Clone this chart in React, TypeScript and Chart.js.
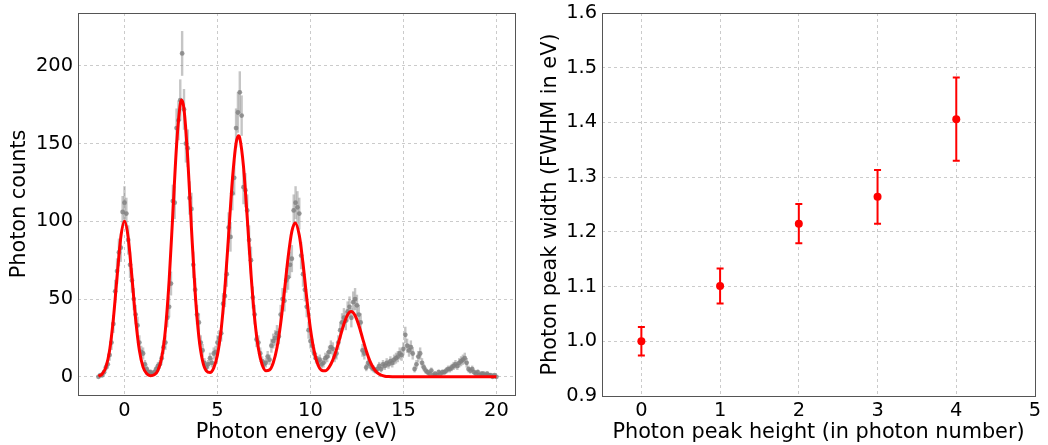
import React, { useEffect, useRef } from "react";
import { Chart, registerables } from "chart.js";

Chart.register(...registerables);

const FONT_FAMILY = "'DejaVu Sans', 'Liberation Sans', sans-serif";
const TICK_SIZE = 19.4;
const TITLE_SIZE = 20.8;

// ---------- Left panel: photon spectrum ----------
const energyStart = -1.4;
const energyStep = 0.1;

const photonCounts = [
  0, 1, 1, 3, 6, 8, 14, 22, 34, 55,
  68, 80, 83, 106, 112, 105, 88, 72, 62, 50,
  40, 33, 22, 16, 15, 8, 5, 3, 3, 2,
  3, 5, 7, 8, 12, 19, 22, 38, 45, 60,
  113, 112, 160, 165, 178, 208, 172, 150, 147, 115,
  108, 72, 56, 40, 35, 22, 17, 9, 6, 8,
  12, 9, 15, 16, 22, 25, 28, 47, 52, 66,
  96, 90, 118, 128, 160, 170, 183, 168, 122, 120,
  107, 88, 75, 51, 40, 24, 22, 15, 10, 8,
  9, 13, 11, 20, 23, 25, 28, 26, 40, 50,
  49, 62, 64, 72, 76, 107, 112, 109, 105, 78,
  66, 56, 45, 30, 23, 20, 15, 12, 10, 11,
  8, 9, 12, 13, 16, 19, 18, 13, 15, 22,
  30, 35, 38, 36, 42, 45, 38, 48, 50, 46,
  40, 35, 17, 15, 6, 9, 8, 6, 5, 4,
  5, 7, 5, 8, 7, 9, 8, 10, 9, 11,
  12, 13, 15, 14, 18, 27, 20, 17, 19, 15,
  5, 8, 13, 15, 9, 6, 4, 3, 2, 4,
  1, 2, 1, 3, 2, 3, 3, 4, 5, 5,
  6, 7, 8, 7, 9, 10, 11, 12, 9, 5,
  4, 5, 3, 2, 3, 1, 2, 2, 1, 2,
  1, 1, 0, 1, 0,
];

const photonCountErrors = [
  0, 1, 1, 1.7, 2.4, 2.8, 3.7, 4.7, 5.8, 7.4,
  8.2, 8.9, 9.1, 10.3, 10.6, 10.2, 9.4, 8.5, 7.9, 7.1,
  6.3, 5.7, 4.7, 4, 3.9, 2.8, 2.2, 1.7, 1.7, 1.4,
  1.7, 2.2, 2.6, 2.8, 3.5, 4.4, 4.7, 6.2, 6.7, 7.7,
  10.6, 10.6, 12.6, 12.8, 13.3, 14.4, 13.1, 12.2, 12.1, 10.7,
  10.4, 8.5, 7.5, 6.3, 5.9, 4.7, 4.1, 3, 2.4, 2.8,
  3.5, 3, 3.9, 4, 4.7, 5, 5.3, 6.9, 7.2, 8.1,
  9.8, 9.5, 10.9, 11.3, 12.6, 13, 13.5, 13, 11, 11,
  10.3, 9.4, 8.7, 7.1, 6.3, 4.9, 4.7, 3.9, 3.2, 2.8,
  3, 3.6, 3.3, 4.5, 4.8, 5, 5.3, 5.1, 6.3, 7.1,
  7, 7.9, 8, 8.5, 8.7, 10.3, 10.6, 10.4, 10.2, 8.8,
  8.1, 7.5, 6.7, 5.5, 4.8, 4.5, 3.9, 3.5, 3.2, 3.3,
  2.8, 3, 3.5, 3.6, 4, 4.4, 4.2, 3.6, 3.9, 4.7,
  5.5, 5.9, 6.2, 6, 6.5, 6.7, 6.2, 6.9, 7.1, 6.8,
  6.3, 5.9, 4.1, 3.9, 2.4, 3, 2.8, 2.4, 2.2, 2,
  2.2, 2.6, 2.2, 2.8, 2.6, 3, 2.8, 3.2, 3, 3.3,
  3.5, 3.6, 3.9, 3.7, 4.2, 5.2, 4.5, 4.1, 4.4, 3.9,
  2.2, 2.8, 3.6, 3.9, 3, 2.4, 2, 1.7, 1.4, 2,
  1, 1.4, 1, 1.7, 1.4, 1.7, 1.7, 2, 2.2, 2.2,
  2.4, 2.6, 2.8, 2.6, 3, 3.2, 3.3, 3.5, 3, 2.2,
  2, 2.2, 1.7, 1.4, 1.7, 1, 1.4, 1.4, 1, 1.4,
  1, 1, 0, 1, 0,
];

const fitEnergies = [
  -1.4, -1.2, -1.0, -0.8, -0.6, -0.4, -0.2, 0, 0.2, 0.4,
  0.6, 0.8, 1.0, 1.2, 1.4, 1.6, 1.8, 2.0, 2.2, 2.4,
  2.6, 2.8, 3.0, 3.08, 3.2, 3.4, 3.6, 3.8, 4.0, 4.2,
  4.4, 4.6, 4.8, 5.0, 5.2, 5.4, 5.6, 5.8, 6.0, 6.13,
  6.2, 6.4, 6.6, 6.8, 7.0, 7.2, 7.4, 7.6, 7.8, 8.0,
  8.2, 8.4, 8.6, 8.8, 9.0, 9.18, 9.4, 9.6, 9.8, 10.0,
  10.2, 10.4, 10.6, 10.8, 11.0, 11.2, 11.4, 11.6, 11.8, 12.0,
  12.19, 12.4, 12.6, 12.8, 13.0, 13.2, 13.4, 13.6, 13.8, 14.0,
  14.2, 14.4, 14.6, 15, 16, 17, 18, 19, 20,
];

const fitCounts = [
  0.44, 1.85, 6.25, 17.0, 36.9, 64.2, 89.5, 100, 89.5, 64.2,
  36.9, 17.0, 6.25, 1.9, 0.72, 1.26, 4.18, 12.29, 30.18, 61.7,
  104.98, 148.73, 175.41, 178, 172.22, 140.77, 95.79, 54.27, 25.59, 10.19,
  3.84, 2.8, 5.79, 14.13, 30.53, 56.97, 91.45, 126.33, 150.16, 155,
  153.58, 135.16, 102.37, 66.7, 37.4, 18.16, 7.89, 3.97, 4.43, 9.02,
  18.7, 34.38, 55.17, 77.02, 93.58, 99, 91.01, 72.86, 50.75, 30.82,
  16.39, 7.92, 4.18, 3.83, 6.07, 10.7, 17.5, 25.78, 33.93, 39.93,
  42, 39.48, 33.18, 24.92, 16.73, 10.04, 5.39, 2.58, 1.11, 0.42,
  0.15, 0.04, 0.01, 0, 0, 0, 0, 0, 0,
];

const leftXTicks = [0, 5, 10, 15, 20];
const leftYTicks = [0, 50, 100, 150, 200];

// ---------- Right panel: peak widths ----------
const peakHeights = [0, 1, 2, 3, 4];
const peakWidths = [1.0, 1.101, 1.215, 1.264, 1.406];
const peakWidthErrors = [0.026, 0.032, 0.036, 0.049, 0.076];

const rightXTicks = [0, 1, 2, 3, 4, 5];
const rightYTicks = [0.9, 1.0, 1.1, 1.2, 1.3, 1.4, 1.5, 1.6];

// energy bin centres of the measured spectrum
const photonEnergies = photonCounts.map((_, i) => +(energyStart + i * energyStep).toFixed(2));

const errorBarPlugin = {
  id: "errorBars",
  beforeDatasetsDraw(chart: any) {
    const ctx = chart.ctx;
    const yScale = chart.scales.y;
    chart.data.datasets.forEach((ds: any, i: number) => {
      if (!ds.errorBars) return;
      const meta = chart.getDatasetMeta(i);
      const { values, color, width, cap } = ds.errorBars;
      ctx.save();
      ctx.strokeStyle = color;
      ctx.lineWidth = width;
      ctx.lineCap = "butt";
      meta.data.forEach((el: any, j: number) => {
        const err = values[j];
        if (!err) return;
        const v = ds.data[j].y;
        const yTop = yScale.getPixelForValue(v + err);
        const yBot = yScale.getPixelForValue(v - err);
        const x = el.x;
        ctx.beginPath();
        ctx.moveTo(x, yTop);
        ctx.lineTo(x, yBot);
        if (cap) {
          ctx.moveTo(x - cap, yTop);
          ctx.lineTo(x + cap, yTop);
          ctx.moveTo(x - cap, yBot);
          ctx.lineTo(x + cap, yBot);
        }
        ctx.stroke();
      });
      ctx.restore();
    });
  },
};

const framePlugin = {
  id: "frame",
  afterDraw(chart: any) {
    const { ctx, chartArea } = chart;
    ctx.save();
    ctx.strokeStyle = "#555555";
    ctx.lineWidth = 1;
    ctx.strokeRect(
      Math.round(chartArea.left) + 0.5,
      Math.round(chartArea.top) + 0.5,
      Math.round(chartArea.right - chartArea.left),
      Math.round(chartArea.bottom - chartArea.top)
    );
    ctx.restore();
  },
};

function makeAxis(opts: {
  horizontal: boolean;
  min: number;
  max: number;
  ticks: number[];
  size: number;
  title: string;
  titlePad: number;
  tickPad: number;
  fmt: (v: number) => string;
}) {
  return {
    type: "linear",
    min: opts.min,
    max: opts.max,
    afterBuildTicks: (s: any) => {
      s.ticks = opts.ticks.map((v) => ({ value: v }));
    },
    afterFit: (s: any) => {
      if (opts.horizontal) s.height = opts.size;
      else s.width = opts.size;
      s.paddingTop = 0;
      s.paddingBottom = 0;
      s.paddingLeft = 0;
      s.paddingRight = 0;
    },
    grid: { color: "#c6c6c6", lineWidth: 0.9, drawTicks: false },
    border: { display: false, dash: [3, 3] },
    ticks: {
      color: "#000",
      padding: opts.tickPad,
      font: { family: FONT_FAMILY, size: TICK_SIZE },
      callback: (v: any) => opts.fmt(Number(v)),
    },
    title: {
      display: true,
      text: opts.title,
      color: "#000",
      font: { family: FONT_FAMILY, size: TITLE_SIZE },
      padding: opts.horizontal ? { top: 0, bottom: opts.titlePad } : { top: opts.titlePad, bottom: 0 },
    },
  };
}

function leftConfig(): any {
  return {
    type: "scatter",
    data: {
      datasets: [
        {
          type: "line",
          label: "fit",
          order: 0,
          data: fitEnergies.map((x, i) => ({ x, y: fitCounts[i] })),
          borderColor: "#ff0000",
          borderWidth: 3,
          pointRadius: 0,
          fill: false,
          cubicInterpolationMode: "monotone",
        },
        {
          type: "scatter",
          label: "data",
          order: 1,
          data: photonEnergies.map((x, i) => ({ x, y: photonCounts[i] })),
          pointRadius: 2.4,
          pointBackgroundColor: "rgba(128,128,128,0.8)",
          pointBorderWidth: 0,
          errorBars: { values: photonCountErrors, color: "rgba(140,140,140,0.5)", width: 2.4, cap: 0 },
        },
      ],
    },
    options: {
      animation: false,
      responsive: false,
      devicePixelRatio: 1,
      layout: { padding: { top: 13, right: 9, bottom: 0, left: 0 } },
      plugins: { legend: { display: false }, tooltip: { enabled: false } },
      scales: {
        x: makeAxis({
          horizontal: true, min: -2.5, max: 21, ticks: leftXTicks, size: 50,
          title: "Photon energy (eV)", titlePad: 0, tickPad: 4, fmt: (v) => String(v),
        }),
        y: makeAxis({
          horizontal: false, min: -11.7, max: 234, ticks: leftYTicks, size: 78,
          title: "Photon counts", titlePad: 7, tickPad: 5, fmt: (v) => String(v),
        }),
      },
    },
    plugins: [errorBarPlugin, framePlugin],
  };
}

function rightConfig(): any {
  return {
    type: "scatter",
    data: {
      datasets: [
        {
          label: "width",
          data: peakHeights.map((x, i) => ({ x, y: peakWidths[i] })),
          pointRadius: 4,
          pointBackgroundColor: "#ff0000",
          pointBorderWidth: 0,
          errorBars: { values: peakWidthErrors, color: "#ff0000", width: 2, cap: 3.5 },
        },
      ],
    },
    options: {
      animation: false,
      responsive: false,
      devicePixelRatio: 1,
      layout: { padding: { top: 13, right: 13, bottom: 0, left: 0 } },
      plugins: { legend: { display: false }, tooltip: { enabled: false } },
      scales: {
        x: makeAxis({
          horizontal: true, min: -0.5, max: 5, ticks: rightXTicks, size: 49,
          title: "Photon peak height (in photon number)", titlePad: 0, tickPad: 3, fmt: (v) => String(v),
        }),
        y: makeAxis({
          horizontal: false, min: 0.9, max: 1.6, ticks: rightYTicks, size: 78,
          title: "Photon peak width (FWHM in eV)", titlePad: 14, tickPad: 5, fmt: (v) => v.toFixed(1),
        }),
      },
    },
    plugins: [errorBarPlugin, framePlugin],
  };
}

export default function App() {
  const leftRef = useRef<HTMLCanvasElement>(null);
  const rightRef = useRef<HTMLCanvasElement>(null);

  useEffect(() => {
    const c1 = new Chart(leftRef.current as HTMLCanvasElement, leftConfig());
    const c2 = new Chart(rightRef.current as HTMLCanvasElement, rightConfig());
    return () => {
      c1.destroy();
      c2.destroy();
    };
  }, []);

  return (
    <div style={{ position: "absolute", left: 0, top: 0, width: 1048, height: 445, background: "#fff" }}>
      <canvas
        ref={leftRef}
        width={524}
        height={445}
        style={{ position: "absolute", left: 0, top: 0, width: 524, height: 445 }}
      />
      <canvas
        ref={rightRef}
        width={524}
        height={445}
        style={{ position: "absolute", left: 524, top: 0, width: 524, height: 445 }}
      />
    </div>
  );
}
